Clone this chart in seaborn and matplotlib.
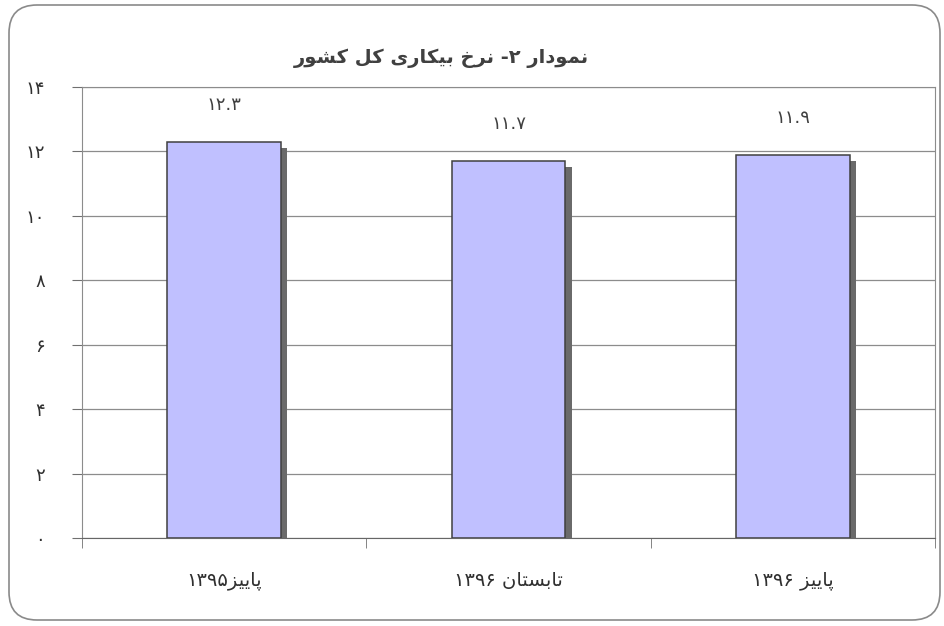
import re
import matplotlib
matplotlib.use("Agg")
import matplotlib.pyplot as plt
import matplotlib.patheffects as pe
from matplotlib.patches import FancyBboxPatch
import seaborn as sns
import pandas as pd

# data
categories = ["پاییز۱۳۹۵", "تابستان ۱۳۹۶", "پاییز ۱۳۹۶"]
values = [12.3, 11.7, 11.9]
value_labels = ["۱۲.۳", "۱۱.۷", "۱۱.۹"]
yticks = [0, 2, 4, 6, 8, 10, 12, 14]
ytick_labels = ["۰", "۲", "۴", "۶", "۸", "۱۰", "۱۲", "۱۴"]
title = "نمودار ۲- نرخ بیکاری کل کشور"

# minimal persian shaping (matplotlib has no arabic shaping / bidi)
# char: (isolated, final, initial, medial)
FORMS = {
    "ا": ("\uFE8D", "\uFE8E", None, None),
    "ب": ("\uFE8F", "\uFE90", "\uFE91", "\uFE92"),
    "پ": ("\uFB56", "\uFB57", "\uFB58", "\uFB59"),
    "ت": ("\uFE95", "\uFE96", "\uFE97", "\uFE98"),
    "خ": ("\uFEA5", "\uFEA6", "\uFEA7", "\uFEA8"),
    "د": ("\uFEA9", "\uFEAA", None, None),
    "ر": ("\uFEAD", "\uFEAE", None, None),
    "ز": ("\uFEAF", "\uFEB0", None, None),
    "س": ("\uFEB1", "\uFEB2", "\uFEB3", "\uFEB4"),
    "ش": ("\uFEB5", "\uFEB6", "\uFEB7", "\uFEB8"),
    "ک": ("\uFB8E", "\uFB8F", "\uFB90", "\uFB91"),
    "ل": ("\uFEDD", "\uFEDE", "\uFEDF", "\uFEE0"),
    "م": ("\uFEE1", "\uFEE2", "\uFEE3", "\uFEE4"),
    "ن": ("\uFEE5", "\uFEE6", "\uFEE7", "\uFEE8"),
    "و": ("\uFEED", "\uFEEE", None, None),
    "ی": ("\uFBFC", "\uFBFD", "\uFBFE", "\uFBFF"),
}


def shape(s):
    out = []
    for i, c in enumerate(s):
        if c not in FORMS:
            out.append(c)
            continue
        iso, fin, ini, med = FORMS[c]
        prev = s[i - 1] if i > 0 else ""
        nxt = s[i + 1] if i + 1 < len(s) else ""
        join_prev = prev in FORMS and FORMS[prev][2] is not None
        join_next = nxt in FORMS and ini is not None
        if join_prev and join_next:
            out.append(med)
        elif join_prev:
            out.append(fin)
        elif join_next:
            out.append(ini)
        else:
            out.append(iso)
    return "".join(out)


def fa(s):
    runs = re.findall(r"[۰-۹.]+|[^۰-۹.]+", shape(s))
    return "".join(r if re.match(r"[۰-۹]", r) else r[::-1] for r in reversed(runs))


plt.rcParams["font.family"] = ["DejaVu Sans"]

df = pd.DataFrame({"cat": categories, "val": values})

fig = plt.figure(figsize=(9.44, 6.26), dpi=100)
ax = fig.add_axes([0.087, 0.1406, 0.9035, 0.7204])

# outer rounded frame
frame = FancyBboxPatch((0.09, 0.06), 9.31, 6.15, boxstyle="round,pad=0,rounding_size=0.28",
                       transform=fig.dpi_scale_trans, facecolor="white", edgecolor="#8a8a8a",
                       linewidth=1.2, zorder=-10)
fig.patches.append(frame)

sns.barplot(data=df, x="cat", y="val", color="#c0c0ff", saturation=1, width=0.4,
            edgecolor="#404040", linewidth=1.1, ax=ax, zorder=3)
for bar in ax.patches:
    bar.set_path_effects([pe.SimplePatchShadow(offset=(4.5, -4.5), shadow_rgbFace="#6a6a6a", alpha=1),
                          pe.Normal()])

for bar, lab in zip(ax.patches, value_labels):
    ax.annotate(lab, (bar.get_x() + bar.get_width() / 2, bar.get_height()),
                xytext=(0, 20), textcoords="offset points", ha="center", va="bottom",
                fontsize=13, color="#404040")

ax.set_ylim(0, 14)
ax.set_xlim(-0.5, 2.5)
ax.set_yticks(yticks)
ax.set_yticklabels(ytick_labels, fontsize=13, color="#303030")
ax.set_xticks(range(len(categories)))
ax.set_xticklabels([fa(c) for c in categories], fontsize=14, color="#303030")
ax.set_xticks([-0.5, 0.5, 1.5, 2.5], minor=True)
ax.tick_params(axis="x", which="major", length=0, pad=24)
ax.tick_params(axis="x", which="minor", length=7, color="#707070")
ax.tick_params(axis="y", length=7, color="#707070", pad=20)
ax.set_xlabel("")
ax.set_ylabel("")
ax.grid(axis="y", color="#8c8c8c", linewidth=0.9, zorder=0)
ax.set_axisbelow(True)
for side in ["left", "bottom", "top", "right"]:
    ax.spines[side].set_color("#8c8c8c")
ax.spines["bottom"].set_color("#666666")
ax.set_facecolor("white")

fig.text(0.468, 0.907, fa(title), ha="center", va="center", fontsize=14,
         fontweight="bold", color="#404040")

fig.savefig("out.png", dpi=100, facecolor="white")
